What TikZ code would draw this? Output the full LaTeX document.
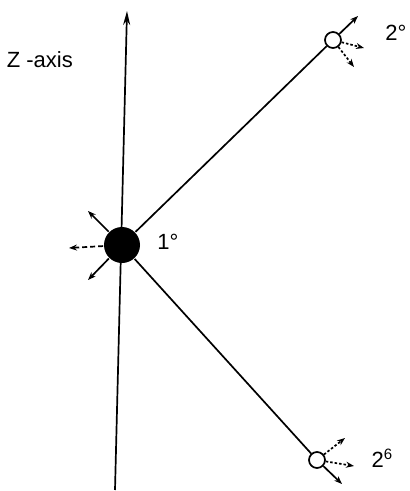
\documentclass[tikz,border=0pt]{standalone}
\usepackage{fontspec}
\setmainfont{Liberation Sans}
\usetikzlibrary{arrows.meta}
\begin{document}
\begin{tikzpicture}[x=1pt,y=-1pt,
  line width=1.7pt,
  tip/.style={-{Stealth[length=8pt,width=6pt]}},
  dotarrow/.style={tip, dash pattern=on 2.5pt off 2pt},
  dasharrow/.style={tip, dash pattern=on 5pt off 3pt},
  lbl/.style={font=\fontsize{22}{24}\selectfont, inner sep=0pt}]
\useasboundingbox (0,0) rectangle (410,491);
% axis
\coordinate (zb) at (115,490);
\coordinate (zt) at (127,11);
\draw[-{Stealth[length=14pt,width=7pt]}] (zb) -- (zt);
\node[lbl, anchor=west] (zlab) at (6,60) {Z -axis};
% atoms
\node[circle, fill=black, minimum size=36pt, inner sep=0pt] (a1) at (122,245) {};
\node[circle, draw, fill=white, minimum size=16pt, inner sep=0pt] (a2) at (333,40) {};
\node[circle, draw, fill=white, minimum size=16pt, inner sep=0pt] (a3) at (317,460) {};
\draw (a1) -- (a2);
\draw (a1) -- (a3);
% labels
\node[lbl] (l1) at (168,242) {1°};
\node[lbl] (l2) at (396,33) {2°};
\node[lbl] (l3) at (382,458) {2\raisebox{8pt}{\fontsize{15}{16}\selectfont 6}};
% arrows at 1
\coordinate (e1a) at (88,211);
\coordinate (e1b) at (69,248);
\coordinate (e1c) at (88,280);
\draw[tip] (a1) -- (e1a);
\draw[dasharrow] (a1) -- (e1b);
\draw[tip] (a1) -- (e1c);
% arrows at 2
\coordinate (e2a) at (358,16);
\coordinate (e2b) at (364,48);
\coordinate (e2c) at (354,67);
\draw[tip] (a2) -- (e2a);
\draw[dotarrow] (a2) -- (e2b);
\draw[dotarrow] (a2) -- (e2c);
% arrows at 3
\coordinate (e3a) at (345,438);
\coordinate (e3b) at (354,466);
\coordinate (e3c) at (342,484);
\draw[dotarrow] (a3) -- (e3a);
\draw[dotarrow] (a3) -- (e3b);
\draw[tip] (a3) -- (e3c);
\end{tikzpicture}
\end{document}
